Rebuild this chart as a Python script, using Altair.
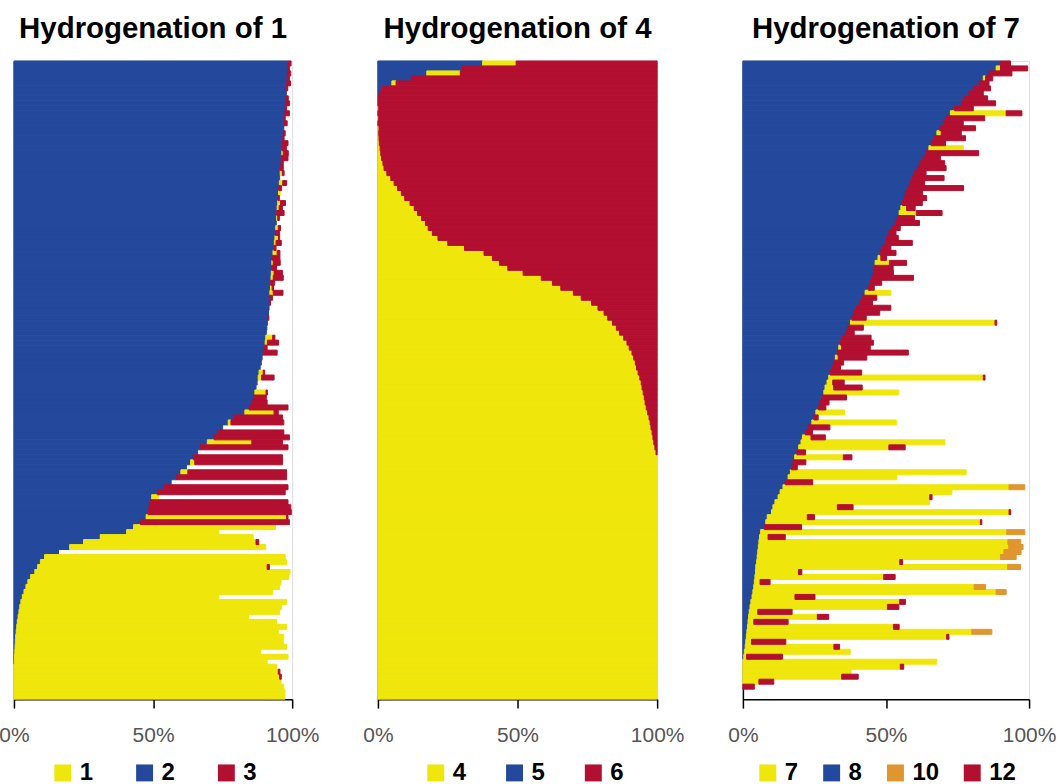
import altair as alt
import pandas as pd

# ---------------- Panel 1: Hydrogenation of 1 ----------------
P1_LABELS = ["1", "2", "3"]
P1_COLORS = ["#efe60c", "#24499c", "#b30f30"]
P1_STACK = ["2", "1", "3"]

P1_C2 = [  # blue, % per row (top to bottom)
    98.6, 98.4, 98.3, 98.2, 98.1, 98.0, 97.9, 97.7, 97.6, 97.5,
    97.4, 97.2, 97.1, 97.0, 96.8, 96.7, 96.5, 96.4, 96.3, 96.1,
    96.0, 95.8, 95.7, 95.5, 95.4, 95.2, 95.1, 94.9, 94.8, 94.6,
    94.5, 94.4, 94.3, 94.1, 94.0, 93.8, 93.6, 93.4, 93.1, 92.9,
    92.7, 92.6, 92.5, 92.4, 92.3, 92.2, 92.0, 91.9, 91.8, 91.7,
    91.5, 91.3, 91.1, 90.9, 90.7, 90.5, 90.3, 90.0, 89.6, 89.2,
    88.9, 88.5, 88.1, 87.8, 87.4, 87.0, 86.6, 86.2, 85.7, 84.5,
    83.0, 79.0, 77.0, 75.0, 73.5, 72.0, 69.5, 67.0, 66.0, 64.5,
    63.5, 62.0, 60.0, 58.5, 56.5, 54.0, 51.5, 49.5, 49.0, 48.5,
    48.2, 47.5, 45.5, 43.0, 40.5, 31.0, 25.0, 20.0, 16.0, 11.0,
    9.5, 8.5, 7.5, 6.0, 5.0, 4.3, 3.6, 3.0, 2.5, 2.1,
    1.8, 1.5, 1.2, 1.0, 0.8, 0.6, 0.5, 0.4, 0.3, 0.2,
    0.1, 0, 0, 0, 0, 0, 0, 0,
]
P1_C1 = [  # yellow
    0, 0, 0, 0, 0, 0, 0, 0, 0, 0,
    0, 0, 0, 0, 0, 0, 0, 0, 0.5, 0,
    0, 0, 0.8, 0, 1.2, 0, 0.6, 0, 1.0, 0.7,
    0, 0.4, 0, 0.9, 0, 1.3, 0.6, 0, 1.5, 0,
    0.5, 0, 1.0, 0.8, 0, 0.6, 1.2, 0, 0, 0,
    0, 0, 0, 0, 0, 2.5, 0.8, 0, 0, 0,
    0, 0, 1.5, 1.2, 0, 0, 4.0, 0, 0, 0,
    10.5, 0, 1.0, 0, 0, 0, 16.0, 0, 0, 0,
    1.5, 0, 2.5, 0, 0, 0, 0, 2.5, 0, 0,
    0, 50.5, 0, 51.0, 33.0, 55.0, 62.0, 70.5, 0, 86.5,
    88.5, 82.5, 91.7, 92.7, 91.0, 91.2, 89.4, 70.6, 95.5, 94.1,
    93.7, 82.8, 93.2, 97.0, 94.2, 96.4, 96.3, 97.6, 88.3, 98.3,
    90.9, 94.4, 95.0, 95.5, 96.0, 97.0, 97.4, 97.4,
]
P1_C3 = [  # red
    1.0, 0.6, 1.2, 0.8, 1.3, 0.4, 0, 0.9, 1.4, 0.5,
    1.6, 0.3, 1.1, 0, 0.7, 0.4, 2.0, 1.5, 1.8, 2.4,
    0.8, 1.0, 0.6, 0, 1.4, 1.0, 0, 0.5, 1.8, 1.2,
    2.6, 0.6, 0, 0.8, 1.5, 0.4, 1.9, 0.8, 1.0, 2.7,
    2.5, 1.8, 3.0, 3.6, 1.4, 0.5, 3.5, 1.0, 0.4, 0,
    0, 0.3, 0, 0, 0, 0.8, 4.0, 1.0, 5.0, 0,
    0, 0, 0.5, 4.5, 0, 0, 0.5, 4.5, 5.3, 14.0,
    1.5, 17.5, 19.0, 0, 23.5, 27.0, 11.0, 31.5, 0, 32.0,
    31.5, 0, 35.5, 39.5, 0, 44.5, 46.0, 0, 49.5, 51.0,
    51.5, 0.5, 53.5, 0, 0, 0, 1.0, 0, 0, 0,
    0, 0.8, 0, 0, 0, 0, 0, 0, 0, 0,
    0, 0, 0, 0, 0, 0, 0, 0, 0, 0,
    0, 0, 0.6, 0.6, 0, 0, 0, 0,
]

# ---------------- Panel 2: Hydrogenation of 4 ----------------
P2_LABELS = ["4", "5", "6"]
P2_COLORS = ["#efe60c", "#24499c", "#b30f30"]
P2_STACK = ["5", "4", "6"]

P2_C5 = [37.5, 30.0, 17.5, 12.0, 5.0, 1.5, 0.5] + [0] * 121
P2_C4 = [
    12.0, 0, 12.0, 0, 1.5, 0, 0, 0, 0, 0.3,
    0, 0.3, 0, 0.4, 0.3, 0.4, 0.5, 0.8, 1.0, 1.3,
    1.8, 2.2, 3.2, 4.6, 5.8, 7.0, 8.4, 9.6, 11.5, 13.0,
    14.2, 15.6, 17.0, 18.0, 19.5, 21.5, 25.0, 31.0, 38.0, 41.0,
    43.5, 46.5, 52.0, 58.5, 62.5, 65.5, 70.0, 72.8, 76.5, 78.8,
    81.0, 82.3, 84.0, 85.4, 86.5, 88.0, 89.2, 90.0, 91.0, 91.6,
    92.2, 92.6, 93.2, 93.8, 94.3, 94.6, 95.0, 95.4, 95.7, 96.1,
    96.6, 97.1, 97.5, 97.8, 98.2, 98.5, 98.8, 99.2, 99.6, 100,
] + [100] * 48
P2_C6 = [
    50.5, 70.0, 70.5, 88.0, 93.5, 98.5, 99.5, 100, 100, 99.7,
    100, 99.7, 100, 99.6, 99.7, 99.6, 99.5, 99.2, 99.0, 98.7,
    98.2, 97.8, 96.8, 95.4, 94.2, 93.0, 91.6, 90.4, 88.5, 87.0,
    85.8, 84.4, 83.0, 82.0, 80.5, 78.5, 75.0, 69.0, 62.0, 59.0,
    56.5, 53.5, 48.0, 41.5, 37.5, 34.5, 30.0, 27.2, 23.5, 21.2,
    19.0, 17.7, 16.0, 14.6, 13.5, 12.0, 10.8, 10.0, 9.0, 8.4,
    7.8, 7.4, 6.8, 6.2, 5.7, 5.4, 5.0, 4.6, 4.3, 3.9,
    3.4, 2.9, 2.5, 2.2, 1.8, 1.5, 1.2, 0.8, 0.4, 0,
] + [0] * 48

# ---------------- Panel 3: Hydrogenation of 7 ----------------
P3_LABELS = ["7", "8", "10", "12"]
P3_COLORS = ["#efe60c", "#24499c", "#e0962e", "#b30f30"]
P3_STACK = ["8", "7", "12", "10"]

P3_C8 = [
    90, 88.5, 86, 84, 82.5, 80.5, 79, 77.5, 76.3, 74,
    72.5, 71, 70, 68.8, 67.8, 66.8, 65.8, 65, 64, 63,
    62, 61, 60, 59.3, 58.5, 57.6, 56.8, 56.2, 55.7, 55.2,
    54.6, 54, 53.2, 52, 51, 50.3, 49.7, 48.7, 48, 47.2,
    46.2, 46, 45.6, 45.1, 44.5, 43.9, 42.7, 41.8, 40.8, 39.7,
    38.8, 38.1, 37.6, 36.6, 35.9, 34.8, 34.1, 33.5, 33, 32.3,
    31.7, 31.1, 30.5, 30, 29.4, 28.7, 28.3, 27.7, 27.1, 26.5,
    25.5, 24.8, 24.1, 22.9, 21.8, 20.8, 20.3, 19.5, 18.9, 18.1,
    17.5, 17, 16.6, 15.8, 14.8, 14, 13, 12.3, 11.2, 10.5,
    10, 8.5, 8, 7.5, 6.2, 5.8, 5.6, 5.4, 5.2, 5,
    4.8, 4.5, 4.4, 4.2, 4.0, 3.8, 3.5, 3.2, 2.8, 2.5,
    2.2, 2, 1.8, 1.6, 1.4, 1.2, 1, 0.8, 0.5, 0.3,
    0, 0, 0, 0, 0, 0, 0, 0,
]
P3_C7 = [
    0, 1.5, 0, 0.8, 0, 0, 0, 0, 0, 0,
    19.5, 0, 0, 0, 1.5, 0, 0, 12, 0, 0,
    0, 0, 0, 0, 0, 0, 0, 0, 0, 2,
    6, 0, 0, 0, 0, 0, 0, 0, 0, 1,
    5, 0, 0, 0, 0, 0, 9, 0, 0, 0,
    0, 0, 50.5, 0, 0, 0, 0, 1, 0, 1,
    0, 0, 0, 54, 2, 3, 26, 0, 0, 0,
    10, 0, 29.5, 0, 0, 3, 50.3, 31.5, 0, 17,
    0, 0, 61.4, 38, 0, 79, 60, 53, 54, 22.5,
    83, 14, 75, 0, 86, 3, 87, 87.5, 86, 85,
    50, 88, 15, 45, 2, 77, 85, 15, 52, 48,
    3, 24, 2, 51, 78.6, 70, 2, 31, 37, 1,
    67.7, 55, 37.8, 34.5, 5.6, 0, 0, 0,
]
P3_C12 = [
    3.5, 9.5, 8, 2.5, 3.5, 6, 5, 8, 12, 6.5,
    5.5, 13.5, 7, 12.5, 7, 11, 5, 0, 18.4, 6,
    8.5, 10, 4, 11, 5, 19.5, 6, 8, 7, 3,
    9, 6, 8.5, 3, 2.5, 4, 9.5, 3, 5.5, 2,
    6, 6.5, 7, 14.5, 4, 2, 0, 5, 4.5, 12,
    9, 5, 0.6, 5.5, 3, 10, 11.5, 10, 24.8, 10,
    3.5, 3, 11, 0.6, 4, 10, 0, 8.5, 3, 2.5,
    0, 1.5, 0, 7.5, 2.5, 5, 0, 5.7, 3, 3,
    4.5, 2, 0, 0, 9.6, 0, 0, 0.8, 0, 5.5,
    0.6, 2.5, 0.5, 13, 0, 6, 0, 0, 0, 0,
    1, 0, 1.2, 4, 3.5, 0, 0, 7, 2, 4,
    12, 4, 12, 2, 0, 0.8, 12, 2, 0, 12.5,
    0, 1.2, 0, 5.8, 5.2, 4, 0, 0,
]
P3_C10 = [0] * 128
for _r, _v in [(85, 5.5), (94, 6.3), (96, 4.5), (97, 5.0), (98, 6.0),
               (99, 5.5), (101, 4.5), (105, 4.0), (106, 3.5), (114, 7.0)]:
    P3_C10[_r] = _v

FONT = "Liberation Sans"


def panel(series, labels, colors, stack, title, width, legend_x, col_pad):
    recs = []
    for comp, vals in series.items():
        for i, v in enumerate(vals):
            recs.append({"row": i, "comp": comp, "value": v,
                         "pos": stack.index(comp)})
    df = pd.DataFrame(recs)
    return alt.Chart(df).transform_filter(
        "datum.value > 0"
    ).mark_bar(strokeWidth=1).encode(
        x=alt.X(
            "value:Q", stack="zero",
            scale=alt.Scale(domain=[0, 100], nice=False, clamp=True),
            axis=alt.Axis(
                values=[0, 50, 100], labelExpr="datum.value + '%'",
                title=None, grid=False, domainColor="black", domainWidth=1.5,
                tickColor="black", tickWidth=1.5, tickSize=9,
                labelFont=FONT, labelFontSize=21, labelColor="#555555",
                labelPadding=16, labelFlush=False, labelOverlap=False,
            ),
        ),
        y=alt.Y(
            "row:O",
            scale=alt.Scale(domain=list(range(128)), paddingInner=0,
                            paddingOuter=0),
            axis=alt.Axis(labels=False, ticks=False, title=None,
                          domainColor="black", domainWidth=1.5),
        ),
        color=alt.Color(
            "comp:N",
            scale=alt.Scale(domain=labels, range=colors),
            legend=alt.Legend(
                title=None, orient="none", legendX=legend_x, legendY=702,
                direction="horizontal", columns=len(labels),
                symbolType="square", symbolSize=289, symbolStrokeWidth=0,
                symbolOpacity=1, labelFont=FONT, labelFontSize=24,
                labelFontWeight="bold", labelColor="black", labelOffset=5,
                columnPadding=col_pad, padding=0,
            ),
        ),
        stroke=alt.Stroke(
            "comp:N", scale=alt.Scale(domain=labels, range=colors),
            legend=None,
        ),
        order=alt.Order("pos:Q"),
    ).properties(
        width=width, height=640,
        title=alt.TitleParams(
            title, fontSize=29.5, font=FONT, fontWeight="bold",
            anchor="middle", frame="group", baseline="alphabetic",
            offset=-7, color="black",
        ),
    )


c1 = panel({"2": P1_C2, "1": P1_C1, "3": P1_C3}, P1_LABELS, P1_COLORS,
           P1_STACK, "Hydrogenation of 1", 279, 37, 39)
c2 = panel({"5": P2_C5, "4": P2_C4, "6": P2_C6}, P2_LABELS, P2_COLORS,
           P2_STACK, "Hydrogenation of 4", 280, 46, 36)
c3 = panel({"8": P3_C8, "7": P3_C7, "12": P3_C12, "10": P3_C10}, P3_LABELS,
           P3_COLORS, P3_STACK, "Hydrogenation of 7", 287, 13, 21)

chart = alt.hconcat(c1, c2, c3, spacing=86, bounds="flush").resolve_scale(
    color="independent", stroke="independent"
).configure_view(strokeWidth=0).configure(
    background="white",
    padding={"left": -2, "top": 12, "right": 0, "bottom": 0},
)

chart.save("out.html", embed_options={"renderer": "svg", "actions": False})
